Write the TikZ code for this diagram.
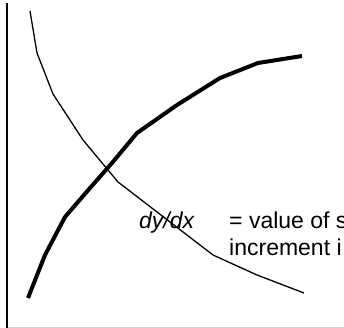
\documentclass[tikz,border=0pt]{standalone}
\usepackage{fontspec}
\setmainfont{Liberation Sans}
\begin{document}
\begin{tikzpicture}[x=1pt,y=-1pt,
  thin curve/.style={line width=1.3pt,line join=round},
  thick curve/.style={line width=4pt,line join=round},
  lbl/.style={inner sep=0pt,anchor=base west,font=\fontsize{23}{27}\selectfont}]
\useasboundingbox (0,0) rectangle (344,328);
\clip (0,0) rectangle (344,328);
\draw[line width=0.8pt,black!18] (8,327.5) -- (344,327.5);
\draw[line width=2.5pt] (7,3) -- (7,328);
\draw[thin curve] (30,11) -- (37,53) -- (53,94) -- (83,140) -- (118,182) -- (213,255) -- (257,275) -- (304,293);
\draw[thick curve] (28,298) -- (45,255) -- (65,217) -- (90,188) -- (112,163) -- (137,133) -- (177,105) -- (220,78) -- (258,63) -- (302,56);
\node[lbl] (d) at (139,228) {\itshape dy/dx};
\node[lbl] (v) at (229,228) {= value of s};
\node[lbl] (i) at (229,255) {increment i};
\end{tikzpicture}
\end{document}
